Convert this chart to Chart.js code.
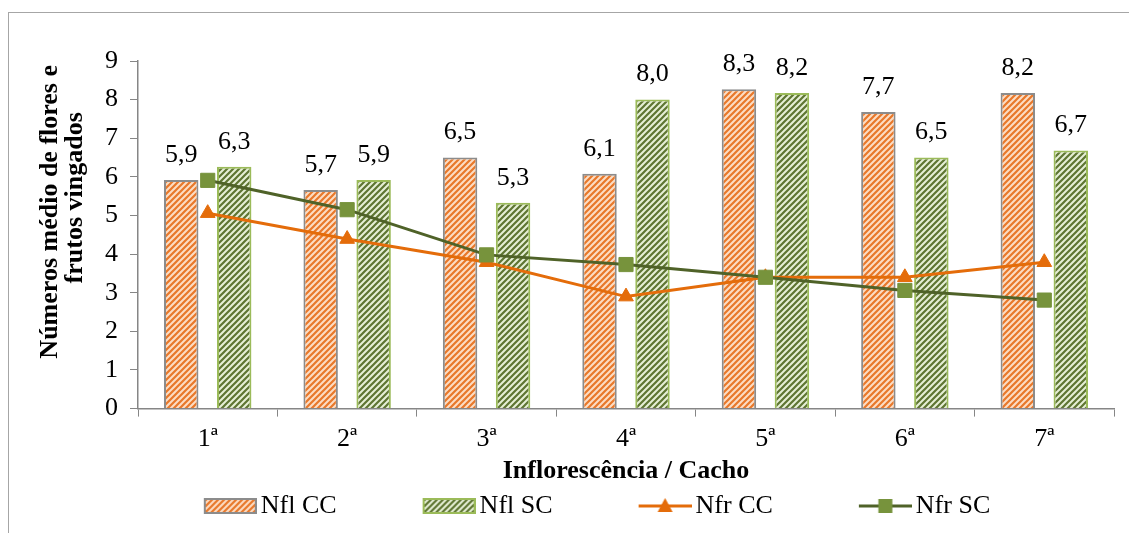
<!DOCTYPE html>
<html>
<head>
<meta charset="utf-8">
<script src="https://cdn.jsdelivr.net/npm/chart.js@4.4.1/dist/chart.umd.min.js"></script>
<style>
  html, body { margin: 0; padding: 0; background: #fff; overflow: hidden; }
  #moldura { position: absolute; left: 8px; top: 12px; width: 1200px; height: 600px; border: 1px solid #a6a6a6; }
  #grafico { position: absolute; left: 0; top: 0; }
</style>
</head>
<body>
<div id="moldura"></div>
<canvas id="grafico" width="1129" height="533"></canvas>
<script>
// dados
const cachos = ['1ª', '2ª', '3ª', '4ª', '5ª', '6ª', '7ª'];
const nflCC = [5.92, 5.66, 6.5, 6.08, 8.27, 7.68, 8.17];
const nflSC = [6.26, 5.92, 5.33, 8.0, 8.17, 6.5, 6.68];
const nfrCC = [5.06, 4.39, 3.79, 2.9, 3.4, 3.4, 3.79];
const nfrSC = [5.91, 5.15, 3.98, 3.73, 3.4, 3.06, 2.81];
const series = ['Nfl CC', 'Nfl SC', 'Nfr CC', 'Nfr SC'];
const yMin = 0, yMax = 9, yPasso = 1;
const tituloY = ['Números médio de flores e', 'frutos vingados'];
const tituloX = 'Inflorescência / Cacho';

const FONTE = '"Liberation Serif", "Times New Roman", serif';
const LARANJA = '#E46C0A';
const VERDE_ESC = '#4F6228';
const VERDE = '#77933C';

function listras(ctx, fundo, cor) {
    const s = 6;
    const c = document.createElement('canvas');
    c.width = s; c.height = s;
    const x = c.getContext('2d');
    x.fillStyle = fundo;
    x.fillRect(0, 0, s, s);
    x.strokeStyle = cor;
    x.lineWidth = 2.2;
    x.beginPath();
    x.moveTo(0, s); x.lineTo(s, 0);
    x.moveTo(-s, s); x.lineTo(s, -s);
    x.moveTo(0, 2 * s); x.lineTo(2 * s, 0);
    x.stroke();
    return ctx.createPattern(c, 'repeat');
}

const ctx = document.getElementById('grafico').getContext('2d');
const padraoCC = listras(ctx, '#FCDDC4', '#E8782A');
const padraoSC = listras(ctx, '#E6EFD6', '#5E7532');

// icones da legenda (parte transparente a esquerda para espacar os itens)
const LARG_ITEM = 124;
function icone(desenha) {
    const c = document.createElement('canvas');
    c.width = LARG_ITEM + 18; c.height = 20;
    const x = c.getContext('2d');
    x.translate(c.width - 53, 0);
    desenha(x);
    return c;
}
const icones = [
    icone(x => {
        x.fillStyle = listras(x, '#FCDDC4', '#E8782A');
        x.fillRect(1, 3, 51, 14);
        x.strokeStyle = '#8C8C8C'; x.lineWidth = 2;
        x.strokeRect(1, 3, 51, 14);
    }),
    icone(x => {
        x.fillStyle = listras(x, '#E6EFD6', '#5E7532');
        x.fillRect(1, 3, 51, 14);
        x.strokeStyle = '#9BBB59'; x.lineWidth = 2;
        x.strokeRect(1, 3, 51, 14);
    }),
    icone(x => {
        x.strokeStyle = LARANJA; x.lineWidth = 3;
        x.beginPath(); x.moveTo(0, 10); x.lineTo(53, 10); x.stroke();
        x.fillStyle = LARANJA;
        x.beginPath(); x.moveTo(26.5, 2); x.lineTo(34, 16); x.lineTo(19, 16); x.closePath(); x.fill();
    }),
    icone(x => {
        x.strokeStyle = VERDE_ESC; x.lineWidth = 3;
        x.beginPath(); x.moveTo(0, 10); x.lineTo(53, 10); x.stroke();
        x.fillStyle = VERDE;
        x.fillRect(19.5, 3, 14, 14);
    })
];

const rotulosBarras = {
    id: 'rotulosBarras',
    afterDatasetsDraw(chart) {
        const c = chart.ctx;
        c.save();
        c.font = '26px ' + FONTE;
        c.fillStyle = '#000';
        c.textAlign = 'center';
        c.textBaseline = 'middle';
        chart.data.datasets.forEach((ds, i) => {
            if (ds.type !== 'bar') return;
            chart.getDatasetMeta(i).data.forEach((el, j) => {
                c.fillText(ds.data[j].toFixed(1).replace('.', ','), el.x, el.y - 25);
            });
        });
        c.restore();
    }
};

const tituloEixoY = {
    id: 'tituloEixoY',
    afterDraw(chart) {
        const c = chart.ctx;
        const meio = (chart.chartArea.top + chart.chartArea.bottom) / 2;
        const bases = [57, 82];
        const desvios = [-23, -37];
        c.save();
        c.font = 'bold 26px ' + FONTE;
        c.fillStyle = '#000';
        c.textAlign = 'center';
        c.textBaseline = 'alphabetic';
        tituloY.forEach((t, i) => {
            c.save();
            c.translate(bases[i], meio + desvios[i]);
            c.rotate(-Math.PI / 2);
            c.fillText(t, 0, 0);
            c.restore();
        });
        c.restore();
    }
};

Chart.defaults.font.family = FONTE;
Chart.defaults.font.size = 26;
Chart.defaults.color = '#000';

new Chart(ctx, {
    data: {
        labels: cachos,
        datasets: [
            {
                type: 'bar', label: series[0], data: nflCC, order: 2,
                backgroundColor: padraoCC, borderColor: '#8C8C8C', borderWidth: 2,
                categoryPercentage: 0.76, barPercentage: 0.65
            },
            {
                type: 'bar', label: series[1], data: nflSC, order: 2,
                backgroundColor: padraoSC, borderColor: '#9BBB59', borderWidth: 2,
                categoryPercentage: 0.76, barPercentage: 0.65
            },
            {
                type: 'line', label: series[2], data: nfrCC, order: 1,
                borderColor: LARANJA, borderWidth: 3, backgroundColor: LARANJA,
                pointStyle: 'triangle', pointRadius: 8.5, pointBorderWidth: 1,
                pointBackgroundColor: LARANJA, pointBorderColor: LARANJA, tension: 0
            },
            {
                type: 'line', label: series[3], data: nfrSC, order: 0,
                borderColor: VERDE_ESC, borderWidth: 3, backgroundColor: VERDE,
                pointStyle: 'rect', pointRadius: 10, pointBorderWidth: 1,
                pointBackgroundColor: VERDE, pointBorderColor: VERDE, tension: 0
            }
        ]
    },
    options: {
        responsive: false,
        animation: false,
        devicePixelRatio: 1,
        layout: { padding: { left: 0, right: 15, top: 61, bottom: 4 } },
        scales: {
            x: {
                grid: { drawOnChartArea: false, drawTicks: true, tickLength: 8, color: '#868686', offset: true },
                border: { color: '#868686', width: 1.5 },
                ticks: { padding: 7, font: { size: 26 }, color: '#000' },
                title: { display: true, text: tituloX, font: { size: 26, weight: 'bold' }, color: '#000', padding: { top: -6, bottom: 0 } }
            },
            y: {
                min: yMin, max: yMax,
                grid: { drawOnChartArea: false, drawTicks: true, tickLength: 8, color: '#868686' },
                border: { color: '#868686', width: 1.5 },
                ticks: { stepSize: yPasso, padding: 12, font: { size: 26 }, color: '#000' },
                afterFit(scale) { scale.width = 138; }
            }
        },
        plugins: {
            tooltip: { enabled: false },
            legend: {
                position: 'bottom',
                labels: {
                    usePointStyle: true,
                    pointStyleWidth: LARG_ITEM,
                    padding: 6,
                    font: { size: 26 },
                    color: '#000',
                    generateLabels(chart) {
                        const itens = Chart.defaults.plugins.legend.labels.generateLabels(chart);
                        itens.forEach(it => { it.pointStyle = icones[it.datasetIndex]; });
                        return itens;
                    },
                    sort: (a, b) => a.datasetIndex - b.datasetIndex
                }
            }
        }
    },
    plugins: [rotulosBarras, tituloEixoY]
});
</script>
</body>
</html>
